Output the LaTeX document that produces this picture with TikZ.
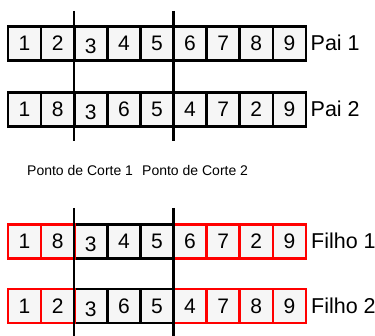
\documentclass[tikz,border=0pt]{standalone}
\usepackage{fontspec}
\setmainfont{Liberation Sans}
\definecolor{cellfill}{HTML}{F6F6F6}
\definecolor{redline}{HTML}{FF0000}
\newcommand\lowthree{\raisebox{-3pt}{3}}
\begin{document}
\begin{tikzpicture}[x=1pt,y=-1pt,
  cell/.style={draw=black, line width=2.6pt, fill=cellfill, minimum width=33.1pt,
    minimum height=34pt, inner sep=0pt, text height=15pt, text depth=0pt,
    font=\fontsize{21}{21}\selectfont},
  redcell/.style={cell, draw=redline},
  cutline/.style={line width=2.4pt, draw=black},
  rowlabel/.style={anchor=west, inner sep=0pt, text height=15pt, text depth=0pt,
    font=\fontsize{21.5}{21.5}\selectfont},
  cutlabel/.style={anchor=base west, inner sep=0pt, font=\fontsize{14}{14}\selectfont}]
\useasboundingbox (0,0) rectangle (375,336);
% row 1 : Pai 1
\foreach \i/\d in {1/1,2/2,3/\lowthree,4/4,5/5,6/6,7/7,8/8,9/9}
  \node[cell] (pa\i) at ({8+33.1*(\i-0.5)},43.3) {\d};
% row 2 : Pai 2
\foreach \i/\d in {1/1,2/8,3/\lowthree,4/6,5/5,6/4,7/7,8/2,9/9}
  \node[cell] (pb\i) at ({8+33.1*(\i-0.5)},109.5) {\d};
% row 3 : Filho 1
\foreach \i/\d in {3/\lowthree,4/4,5/5}
  \node[cell] (fa\i) at ({8+33.1*(\i-0.5)},241.3) {\d};
\foreach \i/\d in {1/1,2/8,6/6,7/7,8/2,9/9}
  \node[redcell] (fa\i) at ({8+33.1*(\i-0.5)},241.3) {\d};
% row 4 : Filho 2
\foreach \i/\d in {3/\lowthree,4/6,5/5}
  \node[cell] (fb\i) at ({8+33.1*(\i-0.5)},306) {\d};
\foreach \i/\d in {1/1,2/2,6/4,7/7,8/8,9/9}
  \node[redcell] (fb\i) at ({8+33.1*(\i-0.5)},306) {\d};
% row labels
\node[rowlabel] (lpa) at (310.5,43.3) {Pai 1};
\node[rowlabel] (lpb) at (310.5,109.5) {Pai 2};
\node[rowlabel] (lfa) at (311,241.3) {Filho 1};
\node[rowlabel] (lfb) at (311,306) {Filho 2};
% cut lines
\coordinate (c1top) at (74.2,11);
\coordinate (c1bot) at (74.2,141.5);
\coordinate (c2top) at (173.5,11);
\coordinate (c2bot) at (173.5,141.5);
\coordinate (c3top) at (74.2,208);
\coordinate (c3bot) at (74.2,337);
\coordinate (c4top) at (173.5,208);
\coordinate (c4bot) at (173.5,337);
\draw[cutline] (c1top) -- (c1bot);
\draw[cutline] (c2top) -- (c2bot);
\draw[cutline] (c3top) -- (c3bot);
\draw[cutline] (c4top) -- (c4bot);
% cut labels
\node[cutlabel] (corte1) at (27,176) {Ponto de Corte 1};
\node[cutlabel] (corte2) at (142,176) {Ponto de Corte 2};
\end{tikzpicture}
\end{document}
